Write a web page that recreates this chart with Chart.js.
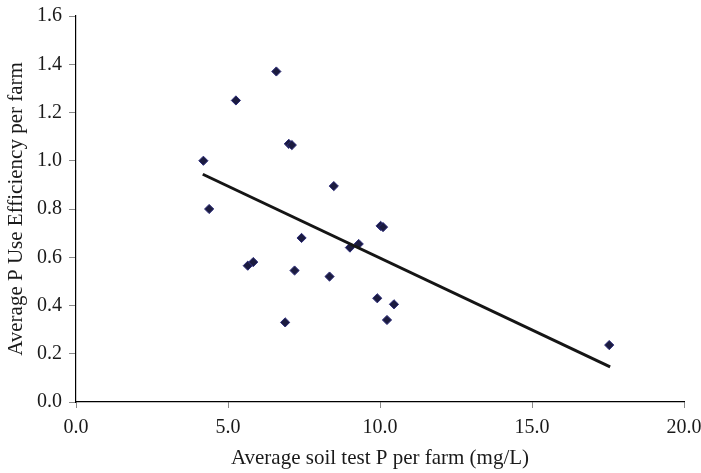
<!DOCTYPE html>
<html>
<head>
<meta charset="utf-8">
<script src="https://cdn.jsdelivr.net/npm/chart.js@4"></script>
<style>
  html, body { margin: 0; padding: 0; background: #fff; }
  #wrap { width: 701px; height: 473px; }
</style>
</head>
<body>
<div id="wrap"><canvas id="chart"></canvas></div>
<script>
/* ── Data ──────────────────────────────────────── */
const soilP = [4.19, 4.38, 5.26, 5.65, 5.83, 6.59, 6.88, 7.00, 7.10, 7.19, 7.42,
               8.34, 8.48, 9.01, 9.30, 9.91, 10.02, 10.10, 10.23, 10.46, 17.54];
const pUseEff = [1.00, 0.80, 1.25, 0.565, 0.58, 1.37, 0.33, 1.07, 1.065, 0.545, 0.68,
                 0.52, 0.895, 0.64, 0.655, 0.43, 0.73, 0.725, 0.34, 0.405, 0.236];
const trendX = [4.17, 17.57];
const trendY = [0.944, 0.146];
const xTicks = [0, 5, 10, 15, 20];
const yTicks = [0, 0.2, 0.4, 0.6, 0.8, 1.0, 1.2, 1.4, 1.6];

/* ── Chart ─────────────────────────────────────── */
const serif = "'Liberation Serif', 'DejaVu Serif', serif";
const points = soilP.map((x, i) => ({ x, y: pUseEff[i] }));
const trend = trendX.map((x, i) => ({ x, y: trendY[i] }));

new Chart(document.getElementById('chart'), {
  type: 'scatter',
  data: {
    datasets: [
      {
        type: 'line',
        data: trend,
        borderColor: '#151515',
        borderWidth: 3,
        pointRadius: 0,
        fill: false
      },
      {
        data: points,
        pointStyle: 'rectRot',
        pointRadius: 4.6,
        backgroundColor: '#1b1b3f',
        borderColor: '#2a2a78',
        borderWidth: 1
      }
    ]
  },
  options: {
    responsive: true,
    maintainAspectRatio: false,
    animation: false,
    layout: { padding: { left: 0, top: 16, right: 17, bottom: 0 } },
    plugins: { legend: { display: false }, tooltip: { enabled: false } },
    scales: {
      x: {
        type: 'linear',
        min: 0, max: 20,
        afterFit: s => { s.height = 71; s.paddingLeft = 0; s.paddingRight = 0; },
        afterBuildTicks: s => { s.ticks = xTicks.map(v => ({ value: v })); },
        grid: { drawOnChartArea: false, tickLength: 6, color: '#8a8a8a' },
        border: { color: '#000', width: 1.2 },
        ticks: {
          padding: 8, color: '#1a1a1a',
          font: { family: serif, size: 20 },
          callback: v => v.toFixed(1)
        },
        title: {
          display: true, text: 'Average soil test P per farm (mg/L)',
          color: '#1a1a1a', font: { family: serif, size: 21 },
          padding: { top: 0, bottom: 2 }
        }
      },
      y: {
        type: 'linear',
        min: 0, max: 1.6,
        afterFit: s => { s.width = 76; s.paddingTop = 0; s.paddingBottom = 0; },
        afterBuildTicks: s => { s.ticks = yTicks.map(v => ({ value: v })); },
        grid: { drawOnChartArea: false, tickLength: 7, color: '#8a8a8a' },
        border: { color: '#000', width: 1.2 },
        ticks: {
          padding: 7, color: '#1a1a1a',
          font: { family: serif, size: 20 },
          callback: v => v.toFixed(1)
        },
        title: {
          display: true, text: 'Average P Use Efficiency per farm',
          color: '#1a1a1a', font: { family: serif, size: 21 },
          padding: { top: 4, bottom: 0 }
        }
      }
    }
  }
});
</script>
</body>
</html>
